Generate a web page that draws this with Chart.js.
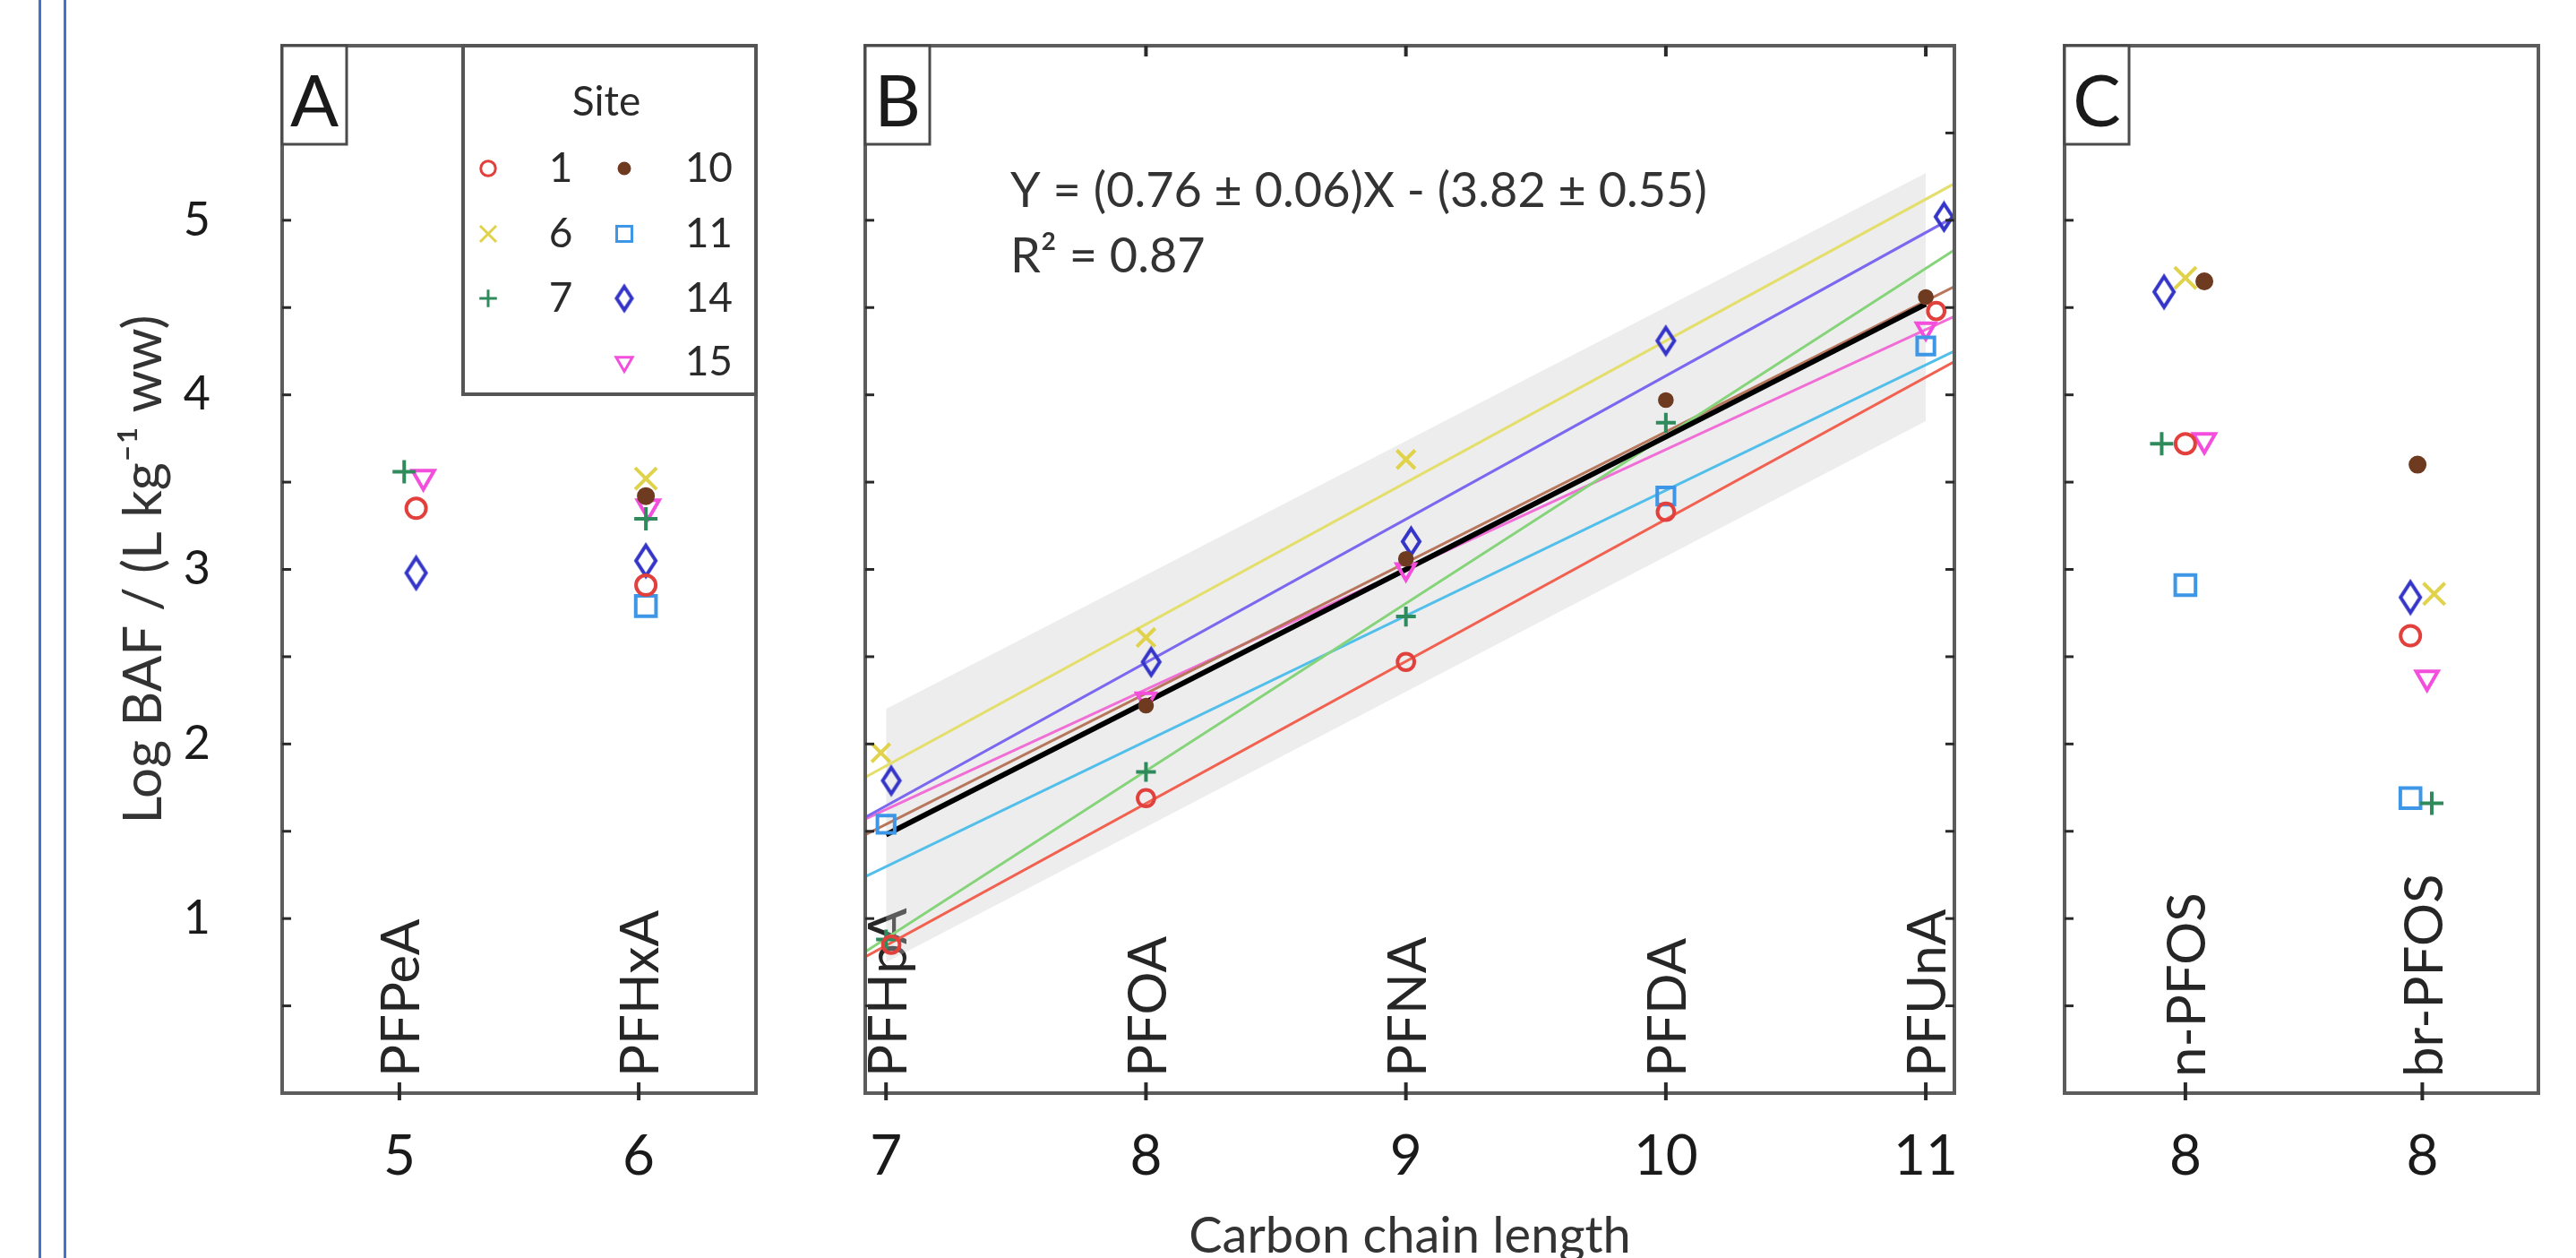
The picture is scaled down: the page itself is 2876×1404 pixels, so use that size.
<!DOCTYPE html>
<html><head><meta charset="utf-8">
<script src="https://cdn.jsdelivr.net/npm/chart.js@4.4.1/dist/chart.umd.min.js"></script>
<style>
html,body{margin:0;padding:0;background:#fff;}
body{width:2876px;height:1404px;position:relative;overflow:hidden;}
.pane{position:absolute;top:0;height:1404px;}
.vline{position:absolute;top:0;height:1404px;width:3px;background:#4472c4;}
</style></head>
<body>
<div class="vline" style="left:43px"></div>
<div class="vline" style="left:71px"></div>
<div class="pane" style="left:0;width:900px"><canvas id="cA"></canvas></div>
<div class="pane" style="left:900px;width:1340px"><canvas id="cB"></canvas></div>
<div class="pane" style="left:2240px;width:636px"><canvas id="cC"></canvas></div>
<script>
// ---------- data ----------
const sites = ['1','6','7','10','11','14','15'];
const markerColors = ['#e2403c','#e0d24a','#2f8a5c','#6e3a20','#3d96e6','#3434c8','#f44fdc'];
const lineColors   = ['#f2604f','#e4df6c','#86d479','#b8765c','#52bfeb','#7b68f0','#f06ed6'];
const pointStyles  = ['circle','crossRot','cross','circle','rect','diamond','triangle'];
const pointRotations = [0,0,0,0,0,0,180];
const pointRadii   = [11,17,13,8,16,15,14];
const pointFilled  = [false,false,false,true,false,false,false];

const compoundsA = ['PFPeA','PFHxA'];
const xTicksA = [5,6];
const xTickLabelsA = ['5','6'];
const compoundsB = ['PFHpA','PFOA','PFNA','PFDA','PFUnA'];
const xTicksB = [7,8,9,10,11];
const xTickLabelsB = ['7','8','9','10','11'];
const compoundsC = ['n-PFOS','br-PFOS'];
const xTicksC = [1,2];
const xTickLabelsC = ['8','8'];
const yTickValues = [1,2,3,4,5];
const yMinorTicks = [0.5,1,1.5,2,2.5,3,3.5,4,4.5,5,5.5];

// points [x, logBAF] per site (order as in `sites`)
const pointsA = [
  [[5.07,3.35],[6.03,2.91]],
  [[6.03,3.52]],
  [[5.02,3.56],[6.03,3.29]],
  [[6.03,3.42]],
  [[6.03,2.79]],
  [[5.07,2.98],[6.03,3.05]],
  [[5.10,3.53],[6.04,3.36]]
];
const pointsB = [
  [[7.02,0.85],[8,1.69],[9,2.47],[10,3.33],[11.04,4.48]],
  [[6.98,1.95],[8,2.61],[9,3.63]],
  [[7,0.88],[8,1.84],[9,2.73],[10,3.84]],
  [[8,2.22],[9,3.06],[10,3.97],[11,4.56]],
  [[7,1.54],[10,3.42],[11,4.28]],
  [[7.02,1.79],[8.02,2.47],[9.02,3.16],[10,4.31],[11.07,5.02]],
  [[8,2.26],[9,3.00],[11,4.38]]
];
const pointsC = [
  [[1.00,3.72],[1.95,2.62]],
  [[1.00,4.67],[2.05,2.86]],
  [[0.90,3.72],[2.04,1.66]],
  [[1.08,4.65],[1.98,3.60]],
  [[1.00,2.91],[1.95,1.69]],
  [[0.91,4.59],[1.95,2.84]],
  [[1.08,3.74],[2.02,2.38]]
];
// per-site fitted lines in panel B (value at left edge, value at right edge)
const fitX = [6.92, 11.11];
const fitLeftY  = [0.78, 1.81, 0.81, 1.48, 1.24, 1.58, 1.57];
const fitRightY = [4.19, 5.21, 4.83, 4.62, 4.25, 5.02, 4.45];
// overall regression and its band
const regX = [7, 11];
const regY = [1.48, 4.52];
const bandX = [7, 11];
const bandLow = [0.75, 3.85];
const bandHigh = [2.20, 5.27];
const eqText = 'Y = (0.76 \u00B1 0.06)X - (3.82 \u00B1 0.55)';
const r2Text = 'R\u00B2 = 0.87';

// ---------- helpers ----------
const FONT = "Lato, 'Open Sans', sans-serif";
function toXY(arr){ return arr.map(p => ({x:p[0], y:p[1]})); }
// tall hollow diamond glyph (MATLAB style)
function diamondGlyph(w, h, color, lw){
  const c = document.createElement('canvas');
  c.width = w + lw*2; c.height = h + lw*2;
  const g = c.getContext('2d');
  const cx = c.width/2, cy = c.height/2;
  g.strokeStyle = color; g.lineWidth = lw; g.lineJoin = 'miter';
  g.beginPath();
  g.moveTo(cx, cy - h/2); g.lineTo(cx + w/2, cy); g.lineTo(cx, cy + h/2); g.lineTo(cx - w/2, cy);
  g.closePath(); g.stroke();
  return c;
}
function styleFor(i, scale){
  if (pointStyles[i] === 'diamond') return diamondGlyph(Math.round(22*scale), Math.round(34*scale), markerColors[i], 4);
  return pointStyles[i];
}
function markerSets(points, scale){
  return points.map((pts,i) => ({
    label: 'Site ' + sites[i],
    data: toXY(pts),
    showLine: false,
    pointStyle: styleFor(i, scale),
    rotation: pointRotations[i],
    pointRadius: pointRadii[i]*scale,
    pointBorderWidth: 4,
    pointBorderColor: markerColors[i],
    pointBackgroundColor: pointFilled[i] ? markerColors[i] : 'rgba(0,0,0,0)',
    order: 0
  }));
}

const decor = {
  id: 'decor',
  beforeDatasetsDraw(chart, args, o){
    const {ctx, chartArea: ca, scales: {x}} = chart;
    ctx.save();
    ctx.fillStyle = '#262626';
    ctx.font = '60px ' + FONT;
    ctx.textAlign = 'left';
    ctx.textBaseline = 'middle';
    o.xTicks.forEach((v,i) => {
      const px = x.getPixelForValue(v);
      ctx.save();
      ctx.translate(px + 3, ca.bottom - 18);
      ctx.rotate(-Math.PI/2);
      ctx.fillText(o.compounds[i], 0, 0);
      ctx.restore();
    });
    ctx.restore();
  },
  afterDatasetsDraw(chart, args, o){
    const {ctx, chartArea: ca, scales: {x, y}} = chart;
    ctx.save();
    ctx.strokeStyle = '#5c5c5c';
    ctx.lineWidth = 4;
    ctx.strokeRect(ca.left, ca.top, ca.right - ca.left, ca.bottom - ca.top);
    ctx.strokeStyle = '#2a2a2a';
    ctx.lineWidth = 3;
    const seg = (x1,y1,x2,y2) => { ctx.beginPath(); ctx.moveTo(x1,y1); ctx.lineTo(x2,y2); ctx.stroke(); };
    yMinorTicks.forEach(v => {
      const py = y.getPixelForValue(v);
      if (o.leftTicks) seg(ca.left, py, ca.left + 10, py);
      if (o.rightTicks) seg(ca.right, py, ca.right - 10, py);
    });
    ctx.lineWidth = 4;
    o.xTicks.forEach(v => {
      const px = x.getPixelForValue(v);
      seg(px, ca.bottom + 8, px, ca.bottom - 12);
      if (o.topTicks) seg(px, ca.top, px, ca.top + 12);
    });
    // panel letter
    ctx.strokeStyle = '#4a4a4a';
    ctx.lineWidth = 3;
    ctx.fillStyle = '#fff';
    ctx.fillRect(ca.left, ca.top, 72, 110);
    ctx.strokeRect(ca.left, ca.top, 72, 110);
    ctx.fillStyle = '#1a1a1a';
    ctx.font = '80px ' + FONT;
    ctx.textAlign = 'center';
    ctx.textBaseline = 'middle';
    ctx.fillText(o.letter, ca.left + 36, ca.top + 64);
    // equation
    if (o.equation){
      ctx.fillStyle = '#333';
      ctx.font = '54px ' + FONT;
      ctx.textAlign = 'left';
      ctx.fillText(eqText, 228, 214);
      ctx.fillText(r2Text, 228, 287);
    }
    ctx.restore();
  },
  afterDraw(chart, args, o){
    if (!o.legend) return;
    const {ctx} = chart;
    ctx.save();
    const L = 517, T = 51, R = 844, B = 440;
    ctx.fillStyle = '#fff';
    ctx.fillRect(L, T, R - L, B - T);
    ctx.strokeStyle = '#555';
    ctx.lineWidth = 4;
    ctx.strokeRect(L, T, R - L, B - T);
    ctx.fillStyle = '#2a2a2a';
    ctx.font = '46px ' + FONT;
    ctx.textAlign = 'center';
    ctx.textBaseline = 'middle';
    ctx.fillText('Site', 677, 114);
    const rows = [188, 261, 333, 404];
    const place = [[0,0],[0,1],[0,2],[1,0],[1,1],[1,2],[1,3]];
    sites.forEach((s,i) => {
      const [col,row] = place[i];
      const my = rows[row];
      const mx = col === 0 ? 545 : 697;
      ctx.strokeStyle = markerColors[i];
      ctx.fillStyle = pointFilled[i] ? markerColors[i] : 'rgba(0,0,0,0)';
      ctx.lineWidth = 3;
      Chart.helpers.drawPoint(ctx, {
        pointStyle: styleFor(i, 0.75), rotation: pointRotations[i],
        radius: pointRadii[i]*0.75, borderWidth: 3
      }, mx, my);
      ctx.fillStyle = '#2a2a2a';
      ctx.font = '46px ' + FONT;
      ctx.textBaseline = 'middle';
      if (col === 0){ ctx.textAlign = 'center'; ctx.fillText(s, 626, my); }
      else { ctx.textAlign = 'right'; ctx.fillText(s, 818, my); }
    });
    ctx.restore();
  }
};
Chart.register(decor);

function xScale(min, max, ticks, labels, withTitle){
  const sc = {
    type: 'linear', min: min, max: max,
    grid: {display: false}, border: {display: false},
    afterBuildTicks: s => { s.ticks = ticks.map(v => ({value: v})); },
    afterFit: s => { s.height = 184; s.paddingLeft = 0; s.paddingRight = 0; },
    ticks: {
      autoSkip: false, maxRotation: 0, minRotation: 0, padding: 26,
      color: '#1a1a1a', font: {family: FONT, size: 62},
      callback: (v) => { const i = ticks.indexOf(v); return i >= 0 ? labels[i] : ''; }
    }
  };
  if (withTitle){
    sc.title = {display: true, text: 'Carbon chain length', color: '#333',
      font: {family: FONT, size: 56}, padding: {top: 0, bottom: -10}};
  }
  return sc;
}
function yScale(show){
  return {
    type: 'linear', min: 0, max: 6, display: show,
    grid: {display: false}, border: {display: false},
    afterBuildTicks: s => { s.ticks = yTickValues.map(v => ({value: v})); },
    afterFit: s => { s.width = show ? 315 : 0; s.paddingTop = 0; s.paddingBottom = 0; },
    ticks: {padding: 72, color: '#1a1a1a', font: {family: FONT, size: 52}},
    title: {display: show, text: 'Log BAF / (L kg\u207B\u00B9 ww)', color: '#333',
      font: {family: FONT, size: 60}, padding: {top: 125, bottom: 0}}
  };
}
const common = {
  responsive: true, maintainAspectRatio: false, animation: false, events: [],
  plugins: {legend: {display: false}, tooltip: {enabled: false}}
};

// Panel A
new Chart(document.getElementById('cA'), {
  type: 'line',
  data: {datasets: markerSets(pointsA, 1)},
  options: Object.assign({}, common, {
    layout: {padding: {left: 0, right: 56, top: 51, bottom: 0}},
    scales: {x: xScale(4.51, 6.49, xTicksA, xTickLabelsA, false), y: yScale(true)},
    plugins: Object.assign({}, common.plugins, {decor: {letter: 'A', compounds: compoundsA, xTicks: xTicksA, leftTicks: true, rightTicks: false, topTicks: false, legend: true}})
  })
});

// Panel B
const bSets = markerSets(pointsB, 0.85);
bSets.push({label: 'fit', data: toXY([[regX[0], regY[0]],[regX[1], regY[1]]]), borderColor: '#000', borderWidth: 6, pointRadius: 0, order: 1});
sites.forEach((s,i) => {
  bSets.push({label: 'line ' + s, data: toXY([[fitX[0], fitLeftY[i]],[fitX[1], fitRightY[i]]]),
    borderColor: lineColors[i], borderWidth: 3, pointRadius: 0, order: 2});
});
bSets.push({label: 'bandLow', data: toXY([[bandX[0], bandLow[0]],[bandX[1], bandLow[1]]]), borderWidth: 0, borderColor: 'rgba(0,0,0,0)', pointRadius: 0, order: 4});
bSets.push({label: 'bandHigh', data: toXY([[bandX[0], bandHigh[0]],[bandX[1], bandHigh[1]]]), borderWidth: 0, borderColor: 'rgba(0,0,0,0)', pointRadius: 0,
  fill: '-1', backgroundColor: 'rgba(200,200,200,0.33)', order: 3});
new Chart(document.getElementById('cB'), {
  type: 'line',
  data: {datasets: bSets},
  options: Object.assign({}, common, {
    layout: {padding: {left: 66, right: 58, top: 51, bottom: 0}},
    scales: {x: xScale(6.92, 11.11, xTicksB, xTickLabelsB, true), y: yScale(false)},
    plugins: Object.assign({}, common.plugins, {filler: {propagate: false}, decor: {letter: 'B', compounds: compoundsB, xTicks: xTicksB, leftTicks: true, rightTicks: true, topTicks: true, equation: true}})
  })
});

// Panel C
new Chart(document.getElementById('cC'), {
  type: 'line',
  data: {datasets: markerSets(pointsC, 1)},
  options: Object.assign({}, common, {
    layout: {padding: {left: 65, right: 42, top: 51, bottom: 0}},
    scales: {x: xScale(0.49, 2.49, xTicksC, xTickLabelsC, false), y: yScale(false)},
    plugins: Object.assign({}, common.plugins, {decor: {letter: 'C', compounds: compoundsC, xTicks: xTicksC, leftTicks: true, rightTicks: false, topTicks: false}})
  })
});
</script>
</body></html>
